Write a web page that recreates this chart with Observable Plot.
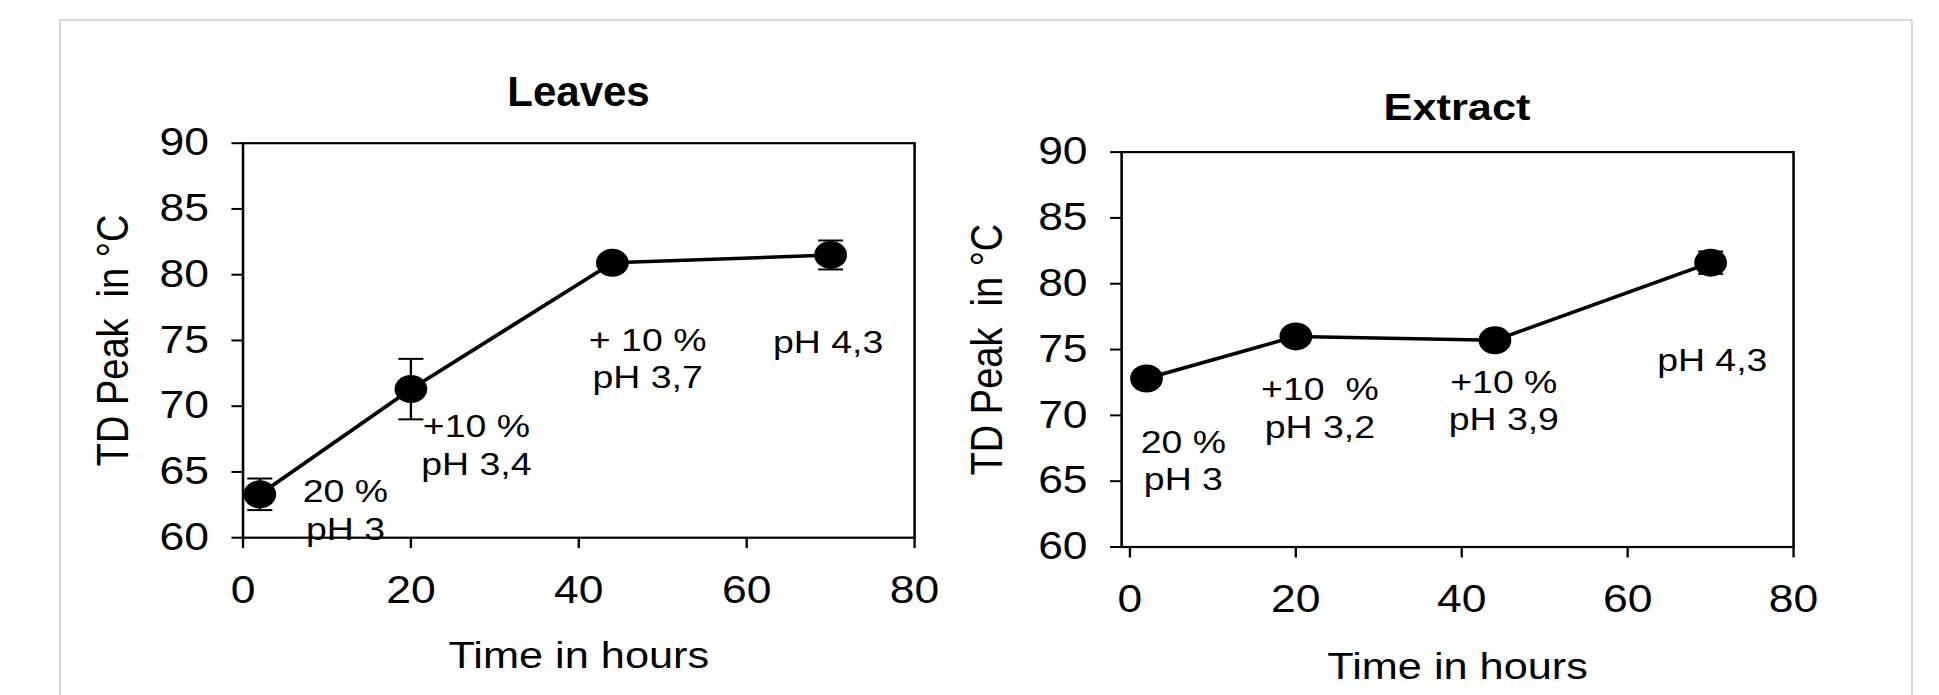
<!DOCTYPE html>
<html>
<head>
<meta charset="utf-8">
<script src="https://cdn.jsdelivr.net/npm/d3@7"></script>
<script src="https://cdn.jsdelivr.net/npm/@observablehq/plot@0.6"></script>
<style>
  html, body { margin: 0; padding: 0; background: white; }
  #page { position: relative; width: 1939px; height: 695px; overflow: hidden; background: white; font-family: "Liberation Sans", Arial, sans-serif; }
  .outer { position: absolute; left: 59px; top: 19px; width: 1850px; height: 720px; border: 2px solid #d8d8d8; border-bottom: none; pointer-events: none; }
  .title { position: absolute; width: 240px; text-align: center; font-weight: bold; line-height: 1; color: black; white-space: nowrap; }
  .panel { position: absolute; top: 0; }
</style>
</head>
<body>
<div id="page">
  <div class="outer"></div>
</div>
<script>
// ---- data ----
const times = [2, 20, 44, 70];
const leavesTD = [63.3, 71.3, 80.9, 81.5];
const leavesErr = [1.2, 2.3, 0.4, 1.1];
const extractTD = [72.8, 76.0, 75.7, 81.6];
const extractErr = [0.3, 0.3, 0.3, 0.85];
const yTicks = [60, 65, 70, 75, 80, 85, 90];
const xTicks = [0, 20, 40, 60, 80];
const panelTitles = ["Leaves", "Extract"];
const xLabel = "Time in hours";
const yLabel = "TD Peak\u00a0 in °C";
const leavesNotes = ["20 %\npH 3", "+10 %\npH 3,4", "+ 10 %\npH 3,7", "pH 4,3"];
const leavesNoteT = [12.2, 27.8, 48.2, 69.7];
const leavesNoteV = [64.73, 69.67, 76.24, 76.06];
const extractNotes = ["20 %\npH 3", "+10\u00a0 %\npH 3,2", "+10 %\npH 3,9", "pH 4,3"];
const extractNoteT = [6.44, 22.9, 45.07, 70.2];
const extractNoteV = [69.19, 73.16, 73.74, 75.42];

// ---- drawing ----
const S = 1.17;   // horizontal stretch of the reference image
const H = 695;
const page = document.getElementById("page");

const capSymbol = {
  draw(ctx, size) {
    const r = Math.sqrt(size / Math.PI);
    ctx.moveTo(-r, 0);
    ctx.lineTo(r, 0);
  }
};

function panel(o) {
  const data = times.map((t, i) => ({t, v: o.td[i], lo: o.td[i] - o.err[i], hi: o.td[i] + o.err[i]}));
  const notes = o.notes.map((text, i) => ({text, t: o.noteT[i], v: o.noteV[i]}));
  const svg = Plot.plot({
    width: o.W, height: H,
    marginLeft: o.mL, marginRight: o.mR, marginTop: o.mT, marginBottom: o.mB,
    x: {domain: o.xDomain},
    y: {domain: [60, 90]},
    style: {fontFamily: "'Liberation Sans', Arial, sans-serif", background: "transparent", color: "black", overflow: "visible"},
    marks: [
      Plot.axisY({ticks: yTicks, tickSize: 9.4, tickPadding: 19.7, fontSize: 38, strokeWidth: 2, label: null}),
      Plot.axisX({ticks: xTicks, tickSize: 11, tickPadding: 27, fontSize: 38, strokeWidth: 2, label: null}),
      Plot.frame({stroke: "black", strokeWidth: 2.2}),
      Plot.line(data, {x: "t", y: "v", stroke: "black", strokeWidth: 3.5}),
      Plot.ruleX(data, {x: "t", y1: "lo", y2: "hi", stroke: "black", strokeWidth: 2}),
      Plot.dot(data, {x: "t", y: "lo", symbol: capSymbol, r: 10.7, stroke: "black", strokeWidth: 2}),
      Plot.dot(data, {x: "t", y: "hi", symbol: capSymbol, r: 10.7, stroke: "black", strokeWidth: 2}),
      Plot.dot(data, {x: "t", y: "v", r: 14, fill: "black", stroke: "none"}),
      Plot.text(notes, {x: "t", y: "v", text: "text", fontSize: 32, lineAnchor: "top", lineHeight: 1.17, fill: "black"}),
      Plot.text([xLabel], {text: d => d, frameAnchor: "bottom", textAnchor: "middle", lineAnchor: "bottom", dy: o.xLabelDy, fontSize: 37, fill: "black"}),
      Plot.text([yLabel], {text: d => d, frameAnchor: "left", textAnchor: "middle", rotate: -90, lineAnchor: "bottom", dx: o.yLabelDx, fontSize: 38, fill: "black"})
    ]
  });
  svg.setAttribute("preserveAspectRatio", "none");
  svg.setAttribute("viewBox", `0 0 ${o.W} ${H}`);
  svg.classList.add("panel");
  svg.style.left = o.left + "px";
  svg.style.width = (o.W * S) + "px";
  svg.style.height = H + "px";
  svg.style.maxWidth = "none";
  return svg;
}

const left = panel({
  td: leavesTD, err: leavesErr, notes: leavesNotes, noteT: leavesNoteT, noteV: leavesNoteV,
  xDomain: [0, 80], W: 828, left: 0,
  mL: 207.2, mR: 46.8, mT: 142.7, mB: H - 537.2,
  xLabelDy: 130, yLabelDx: -98.7
});
const right = panel({
  td: extractTD, err: extractErr, notes: extractNotes, noteT: extractNoteT, noteV: extractNoteV,
  xDomain: [-1, 80], W: 828, left: 970,
  mL: 129.1, mR: 124.6, mT: 151.6, mB: H - 546.5,
  xLabelDy: 131.5, yLabelDx: -102.6
});
page.insertBefore(left, page.firstChild);
page.insertBefore(right, page.firstChild);

// titles
const t1 = document.createElement("div");
t1.className = "title";
t1.textContent = panelTitles[0];
t1.style.fontSize = "42px";
t1.style.left = (578.5 - 120) + "px";
t1.style.top = (107 - 42 * 0.8465) + "px";
page.appendChild(t1);

const t2 = document.createElement("div");
t2.className = "title";
t2.textContent = panelTitles[1];
t2.style.fontSize = "37px";
t2.style.left = (1456.6 - 120) + "px";
t2.style.top = (120.5 - 37 * 0.8465) + "px";
t2.style.transform = `scaleX(${S})`;
t2.style.transformOrigin = "center";
page.appendChild(t2);
</script>
</body>
</html>
